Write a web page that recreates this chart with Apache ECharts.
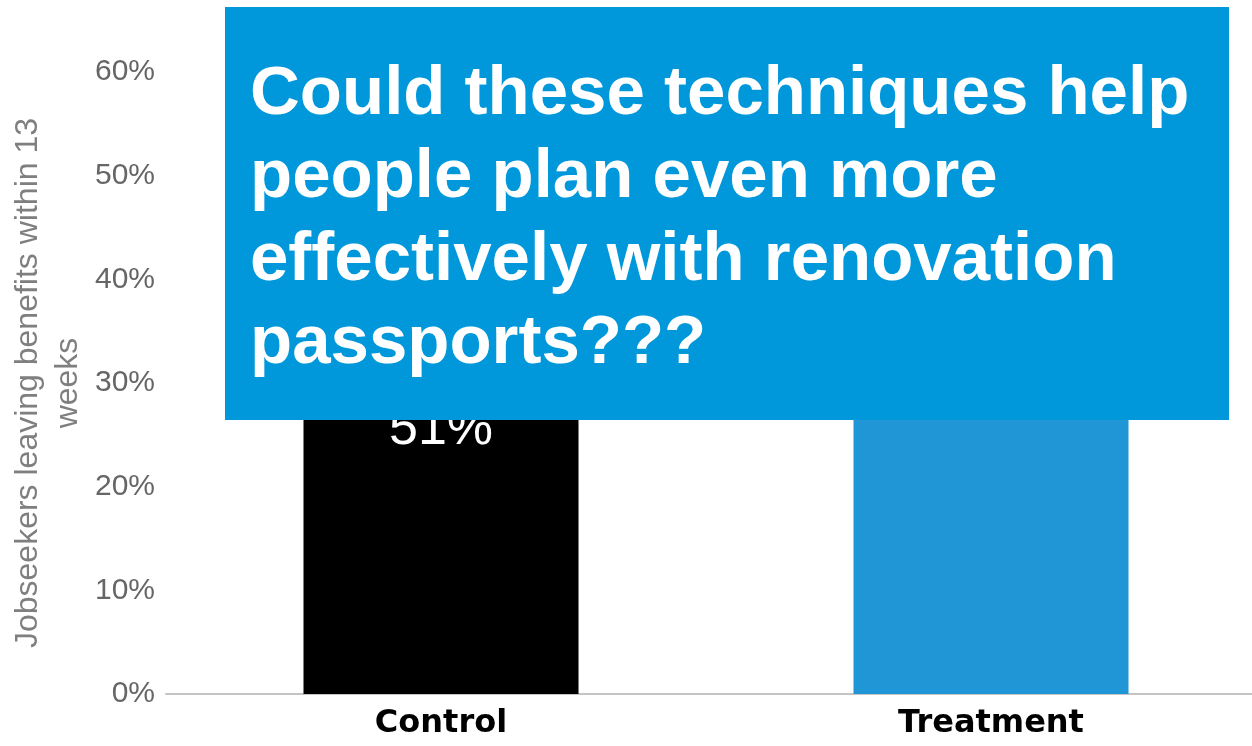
<!DOCTYPE html>
<html>
<head>
<meta charset="utf-8">
<script src="https://cdn.jsdelivr.net/npm/echarts@6/dist/echarts.min.js"></script>
<style>
  html, body { margin: 0; padding: 0; background: #fff; }
  #chart { width: 1252px; height: 746px; }
</style>
</head>
<body>
<div id="chart"></div>
<script>
const categories = ['Control', 'Treatment']
const leavingRates = [51, 56]
const barColors = ['#000000', '#2196d6']
const yTicks = [0, 10, 20, 30, 40, 50, 60]
const yAxisName = 'Jobseekers leaving benefits within 13\nweeks'
const overlayText = 'Could these techniques help\npeople plan even more\neffectively with renovation\npassports???'

const chart = echarts.init(document.getElementById('chart'))

const option = {
  animation: false,
  grid: { left: 166, right: -14, top: 72, bottom: 52, outerBoundsMode: 'none' },
  xAxis: {
    type: 'category',
    data: categories,
    axisTick: { show: false },
    axisLine: { lineStyle: { color: '#c4c4c4', width: 2 } },
    axisLabel: {
      color: '#000',
      fontFamily: 'DejaVu Sans',
      fontWeight: 'bold',
      fontSize: 32,
      margin: 14,
    },
  },
  yAxis: {
    type: 'value',
    min: yTicks[0],
    max: yTicks[yTicks.length - 1],
    interval: 10,
    name: yAxisName,
    nameLocation: 'middle',
    nameGap: 78,
    nameMoveOverlap: false,
    nameTextStyle: {
      color: '#7f7f7f',
      fontFamily: 'Liberation Sans',
      fontSize: 32,
      lineHeight: 40,
    },
    axisLine: { show: false },
    axisTick: { show: false },
    splitLine: { show: false },
    axisLabel: {
      color: '#666',
      fontFamily: 'Liberation Sans',
      fontSize: 30,
      margin: 11,
      formatter: '{value}%',
    },
  },
  series: [{
    type: 'bar',
    barWidth: '50%',
    z: 2,
    data: leavingRates.map((v, i) => ({ value: v, itemStyle: { color: barColors[i] } })),
    label: {
      show: true,
      position: 'inside',
      color: '#fff',
      fontFamily: 'Liberation Sans',
      fontSize: 52,
      formatter: '{c}%',
    },
  }],
  graphic: [
    {
      type: 'rect',
      z: 100,
      zlevel: 1,
      shape: { x: 225, y: 7, width: 1004, height: 413 },
      style: { fill: '#0098da' },
    },
    {
      type: 'text',
      z: 101,
      zlevel: 1,
      x: 250,
      y: 53,
      style: {
        text: overlayText,
        fill: '#fff',
        fontFamily: 'Liberation Sans',
        fontWeight: 'bold',
        fontSize: 69,
        lineHeight: 83,
        verticalAlign: 'top',
      },
    },
  ],
}

chart.setOption(option)
</script>
</body>
</html>
